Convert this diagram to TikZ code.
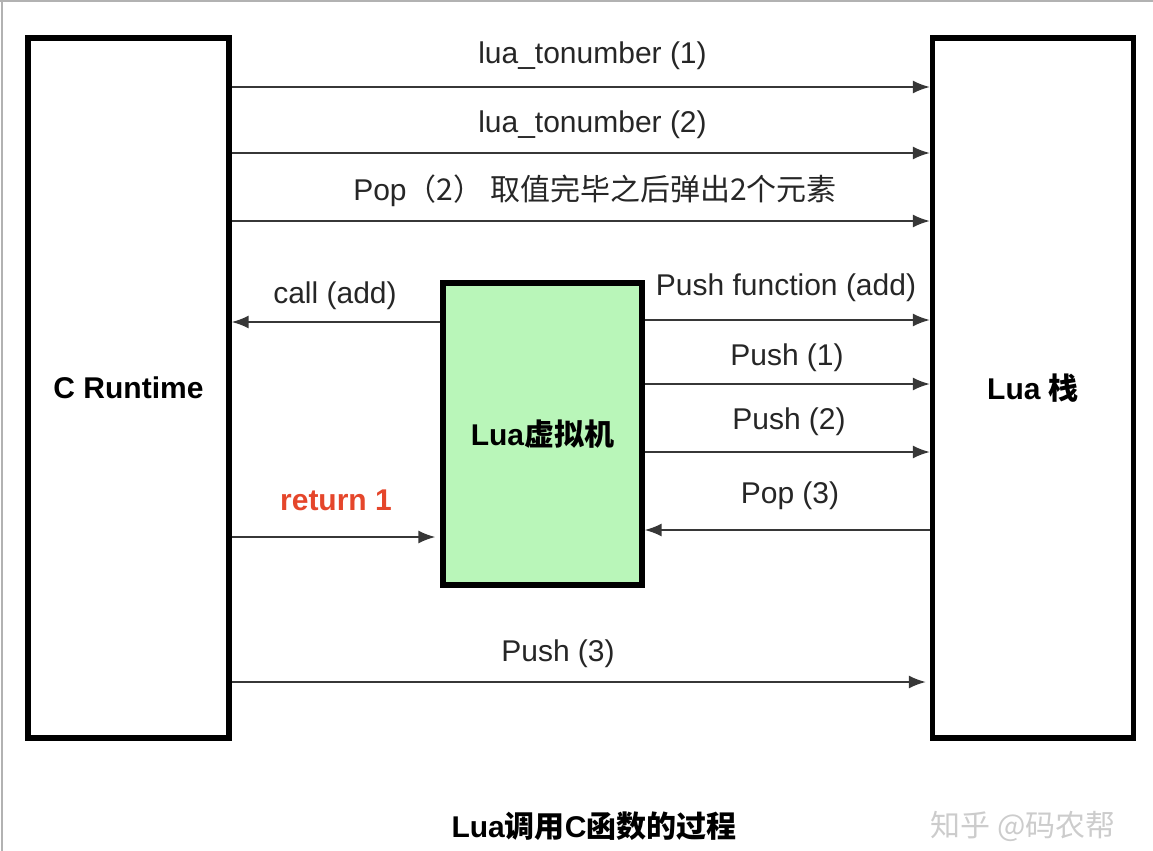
\documentclass[tikz,border=0pt]{standalone}
\usepackage{fontspec}
\setmainfont{Liberation Sans}
\newfontfamily\cjk{Noto Sans CJK SC}
\usetikzlibrary{arrows.meta}
\definecolor{vmgreen}{RGB}{185,246,185}
\definecolor{retred}{RGB}{229,70,43}
\definecolor{linegray}{RGB}{55,55,55}
\begin{document}
\begin{tikzpicture}[x=0.5pt,y=-0.5pt,
  bigbox/.style={draw=black,line width=2.6pt,inner sep=0pt,minimum width=100.5pt,minimum height=350pt,font=\fontsize{15}{18}\selectfont\bfseries},
  vmbox/.style={draw=black,line width=2.6pt,fill=vmgreen,inner sep=0pt,minimum width=99.5pt,minimum height=151pt,font=\fontsize{15}{18}\selectfont\bfseries},
  msg/.style={draw=linegray,line width=1pt,-{Latex[length=8.5pt,width=6.5pt]}},
  lbl/.style={anchor=mid,inner sep=0pt,font=\fontsize{15}{18}\selectfont,text=black!85}]
\useasboundingbox (0,0) rectangle (1153,851);
\draw[gray!60,line width=1pt] (0,1) -- (1153,1);
\draw[gray!60,line width=1pt] (2,0) -- (2,851);
\node[bigbox] (cr) at (128.5,388) {C Runtime};
\node[bigbox] (ls) at (1033,388) {Lua {\cjk 栈}};
\node[vmbox] (vm) at (542.5,434) {Lua{\cjk 虚拟机}};
% arrows
\draw[msg] (cr.east |- 0,87) -- (ls.west |- 0,87);
\draw[msg] (cr.east |- 0,153) -- (ls.west |- 0,153);
\draw[msg] (cr.east |- 0,221) -- (ls.west |- 0,221);
\draw[msg] (vm.west |- 0,322) -- (cr.east |- 0,322);
\draw[msg] (vm.east |- 0,320) -- (ls.west |- 0,320);
\draw[msg] (vm.east |- 0,384) -- (ls.west |- 0,384);
\draw[msg] (vm.east |- 0,452) -- (ls.west |- 0,452);
\draw[msg] (ls.west |- 0,530) -- (vm.east |- 0,530);
\draw[msg,shorten >=2.5pt] (cr.east |- 0,537) -- (vm.west |- 0,537);
\draw[msg,shorten >=2pt] (cr.east |- 0,682) -- (ls.west |- 0,682);
% labels
\node[lbl] (l1) at (592.5,58) {lua\_tonumber (1)};
\node[lbl] (l2) at (592.5,127) {lua\_tonumber (2)};
\node[lbl] (l3) at (595,195) {Pop{\cjk （2） 取值完毕之后弹出2个元素}};
\node[lbl] (l4) at (335,298) {call (add)};
\node[lbl] (l5) at (786,290) {Push function (add)};
\node[lbl] (l6) at (787,360) {Push (1)};
\node[lbl] (l7) at (789,424) {Push (2)};
\node[lbl] (l8) at (790,498) {Pop (3)};
\node[lbl,text=retred,font=\fontsize{15}{18}\selectfont\bfseries] (l9) at (336,505) {return 1};
\node[lbl] (l10) at (558,656) {Push (3)};
\node[font=\fontsize{15}{18}\selectfont\bfseries,inner sep=0pt] (title) at (594,826) {Lua{\cjk 调用}C{\cjk 函数的过程}};
\node[font=\fontsize{15}{18}\selectfont,text=gray!40,inner sep=0pt] (wm) at (1023,826) {{\cjk 知乎 @码农帮}};
\end{tikzpicture}
\end{document}
